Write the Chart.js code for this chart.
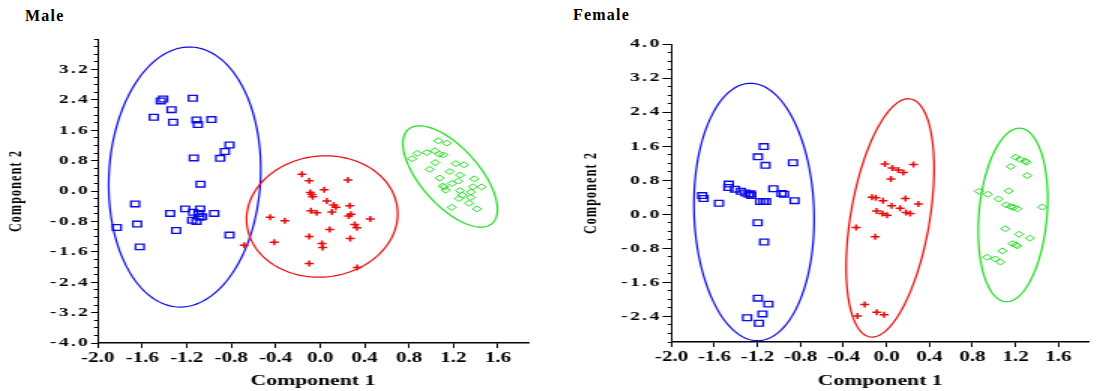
<!DOCTYPE html>
<html>
<head>
<meta charset="utf-8">
<script src="https://cdn.jsdelivr.net/npm/chart.js@4"></script>
<style>
  body { margin: 0; width: 1096px; height: 391px; overflow: hidden; background: #fff; position: relative; }
  .ttl { position: absolute; font: bold 16px 'Liberation Serif', 'Times New Roman', serif; line-height: 16px; letter-spacing: 1.2px; color: #000; }
  .wrap { position: absolute; top: 0; width: 366px; height: 391px; transform: scaleX(1.5); transform-origin: 0 0; }
</style>
</head>
<body>
<div class="ttl" style="left:25px;top:8px">Male</div>
<div class="ttl" style="left:573px;top:7px">Female</div>
<div class="wrap" style="left:0"><canvas id="male" width="366" height="391"></canvas></div>
<div class="wrap" style="left:548px"><canvas id="female" width="366" height="391"></canvas></div>
<script>
// tick labels
const xTicks = [-2.0, -1.6, -1.2, -0.8, -0.4, 0.0, 0.4, 0.8, 1.2, 1.6];
const maleYTicks = [-4.0, -3.2, -2.4, -1.6, -0.8, 0.0, 0.8, 1.6, 2.4, 3.2];
const femaleYTicks = [-2.4, -1.6, -0.8, 0.0, 0.8, 1.6, 2.4, 3.2, 4.0];

// Male scores [component 1, component 2]
const maleBlue = [[-1.412,2.42],[-1.433,2.37],[-1.145,2.44],[-1.337,2.14],[-1.496,1.94],[-1.322,1.81],[-1.112,1.87],[-1.100,1.75],[-0.977,1.88],[-0.815,1.21],[-0.857,1.04],[-0.899,0.86],[-1.136,0.87],[-1.076,0.18],[-1.664,-0.34],[-1.214,-0.47],[-1.349,-0.59],[-1.142,-0.56],[-1.079,-0.47],[-1.094,-0.59],[-1.062,-0.68],[-1.085,-0.69],[-1.151,-0.77],[-1.112,-0.80],[-0.953,-0.59],[-1.646,-0.87],[-1.829,-0.96],[-1.295,-1.04],[-0.815,-1.16],[-1.622,-1.47]];
const maleRed = [[-0.164,0.44],[-0.098,0.27],[0.250,0.29],[0.037,0.03],[-0.089,-0.04],[-0.074,-0.09],[-0.067,-0.15],[0.061,-0.26],[0.122,-0.37],[0.142,-0.43],[0.266,-0.39],[-0.083,-0.52],[-0.031,-0.57],[0.106,-0.55],[0.277,-0.61],[0.257,-0.66],[-0.449,-0.69],[-0.317,-0.78],[0.451,-0.74],[0.311,-0.88],[0.331,-0.97],[0.086,-1.01],[-0.413,-1.35],[-0.098,-1.20],[0.271,-1.25],[0.016,-1.38],[0.023,-1.49],[-0.098,-1.91],[0.334,-2.01],[-0.683,-1.43]];
const maleGreen = [[1.063,1.32],[1.139,1.26],[0.874,0.99],[0.961,1.01],[1.033,1.06],[1.072,0.97],[1.108,0.95],[0.829,0.85],[1.036,0.75],[1.220,0.72],[1.294,0.69],[0.986,0.57],[1.166,0.51],[1.258,0.42],[1.076,0.34],[1.387,0.32],[1.243,0.26],[1.186,0.20],[1.105,0.13],[1.117,0.10],[1.130,0.02],[1.375,0.11],[1.454,0.11],[1.258,0.01],[1.357,-0.03],[1.279,-0.11],[1.249,-0.20],[1.355,-0.17],[1.339,-0.32],[1.184,-0.43],[1.411,-0.47]];

// Female scores [component 1, component 2]
const femaleBlue = [[-1.141,1.59],[-1.196,1.35],[-1.125,1.15],[-0.869,1.21],[-1.467,0.71],[-1.470,0.63],[-1.409,0.59],[-1.354,0.54],[-1.312,0.50],[-1.281,0.47],[-1.257,0.44],[-1.262,0.48],[-1.052,0.60],[-0.976,0.49],[-0.952,0.47],[-1.714,0.44],[-1.701,0.37],[-1.558,0.26],[-1.175,0.30],[-1.144,0.30],[-1.120,0.30],[-0.855,0.32],[-1.198,-0.20],[-1.138,-0.65],[-1.196,-1.97],[-1.098,-2.11],[-1.153,-2.34],[-1.296,-2.43],[-1.186,-2.56]];
const femaleRed = [[-0.014,1.18],[0.054,1.09],[0.109,1.04],[0.157,0.98],[0.251,1.17],[0.041,0.83],[-0.135,0.40],[-0.099,0.39],[-0.032,0.32],[0.176,0.37],[0.297,0.24],[0.048,0.20],[0.127,0.14],[-0.092,0.08],[-0.037,0.02],[0.005,-0.02],[0.182,0.04],[0.221,0.02],[-0.282,-0.31],[-0.105,-0.53],[-0.202,-2.12],[-0.270,-2.39],[-0.090,-2.30],[-0.023,-2.36]];
const femaleGreen = [[1.202,1.34],[1.242,1.29],[1.291,1.25],[1.303,1.22],[1.156,1.12],[1.309,0.91],[0.861,0.54],[0.943,0.47],[1.138,0.55],[1.044,0.36],[1.114,0.22],[1.156,0.18],[1.181,0.16],[1.218,0.13],[1.449,0.17],[1.105,-0.34],[1.233,-0.47],[1.336,-0.56],[1.175,-0.69],[1.202,-0.72],[1.218,-0.74],[1.078,-0.86],[0.937,-1.01],[1.014,-1.05],[1.059,-1.12]];

// 95% ellipses: [centre x, centre y, axis1 dx, axis1 dy, axis2 dx, axis2 dy]
const maleBlueEllipse = [-1.218, 0.368, 0.063, 3.42, 0.681, -0.108];
const maleRedEllipse = [0.018, -0.671, 0.031, 1.597, 0.679, 0.0];
const maleGreenEllipse = [1.170, 0.382, 0.379, -1.232, 0.193, 0.511];
const femaleBlueEllipse = [-1.232, 0.054, -0.032, 3.024, 0.558, 0.0];
const femaleRedEllipse = [0.034, -0.085, 0.190, 2.794, 0.362, -0.162];
const femaleGreenEllipse = [1.177, -0.016, 0.071, 2.037, 0.315, -0.073];

const FONT = "'Liberation Serif', 'Times New Roman', serif";
const BLUE = '#0a0ae8', RED = '#e80a0a', GREEN = '#1edc1e';
const SPACING = { x: { ticks: 0, title: 0 }, y: { ticks: 1.6, title: 1.2 } };

const toPts = arr => arr.map(([x, y]) => ({ x, y }));

const letterSpacing = {
  id: 'letterSpacing',
  beforeDraw(chart) {
    const ctx = chart.ctx;
    for (const [id, sp] of Object.entries(SPACING)) {
      const scale = chart.scales[id];
      if (!scale || scale.$spaced) continue;
      const drawLabels = scale.drawLabels.bind(scale);
      const drawTitle = scale.drawTitle.bind(scale);
      scale.drawLabels = area => { ctx.letterSpacing = sp.ticks + 'px'; drawLabels(area); ctx.letterSpacing = '0px'; };
      scale.drawTitle = () => { ctx.letterSpacing = sp.title + 'px'; drawTitle(); ctx.letterSpacing = '0px'; };
      scale.$spaced = true;
    }
  }
};

function ellipses(list) {
  return {
    id: 'ellipses',
    beforeDatasetsDraw(chart) {
      const { ctx, scales: { x, y } } = chart;
      ctx.save();
      ctx.lineWidth = 1.2;
      list.forEach(({ shape, color }) => {
        const [cx, cy, ux, uy, vx, vy] = shape;
        ctx.strokeStyle = color;
        ctx.beginPath();
        for (let i = 0; i <= 180; i++) {
          const t = i / 180 * 2 * Math.PI;
          const px = x.getPixelForValue(cx + ux * Math.cos(t) + vx * Math.sin(t));
          const py = y.getPixelForValue(cy + uy * Math.cos(t) + vy * Math.sin(t));
          if (i) ctx.lineTo(px, py); else ctx.moveTo(px, py);
        }
        ctx.closePath();
        ctx.stroke();
      });
      ctx.restore();
    }
  };
}

function makeChart(id, o) {
  const tickFont = { family: FONT, size: 13, weight: 'bold' };
  return new Chart(document.getElementById(id), {
    type: 'scatter',
    data: {
      datasets: [
        { data: toPts(o.blue), pointStyle: 'rect', pointRadius: 4, pointBorderWidth: 1.3, borderColor: BLUE, backgroundColor: 'rgba(0,0,0,0)' },
        { data: toPts(o.red), pointStyle: 'cross', pointRadius: 3, pointBorderWidth: 1.5, borderColor: RED, backgroundColor: RED },
        { data: toPts(o.green), pointStyle: 'rectRot', pointRadius: 3, pointBorderWidth: 1, borderColor: GREEN, backgroundColor: 'rgba(0,0,0,0)' }
      ]
    },
    options: {
      responsive: false,
      animation: false,
      events: [],
      layout: { padding: { left: 0, right: o.padRight, top: o.top, bottom: 0 } },
      plugins: { legend: { display: false }, tooltip: { enabled: false } },
      scales: {
        x: {
          type: 'linear', position: 'bottom', min: -2.0, max: o.xMax,
          afterBuildTicks: s => { s.ticks = xTicks.map(v => ({ value: v })); },
          afterFit: s => { s.height = o.xHeight; },
          grid: { drawOnChartArea: false, color: '#000', tickLength: 5, tickWidth: 1 },
          border: { color: '#000', width: 1.4 },
          ticks: { font: { family: FONT, size: 14, weight: 'bold' }, color: '#000', padding: 2, maxRotation: 0, callback: v => v.toFixed(1) },
          title: { display: true, text: 'Component 1', font: { family: FONT, size: 14.5, weight: 'bold' }, color: '#000', padding: { top: 0, bottom: 1 } }
        },
        y: {
          type: 'linear', position: 'left', weight: 1, min: o.yMin, max: 4.0,
          afterBuildTicks: s => { s.ticks = o.yTicks.map(v => ({ value: v })); },
          afterFit: s => { s.width = o.yWidth; },
          grid: { drawOnChartArea: false, color: '#000', tickLength: o.tickLen, tickWidth: 1 },
          border: { color: '#000', width: 1 },
          ticks: { font: tickFont, color: '#000', padding: 0.5, callback: v => v.toFixed(1) },
          title: { display: true, text: 'Component 2', font: { family: FONT, size: 12, weight: 'bold' }, color: '#000', padding: { top: o.titlePad, bottom: 0 } }
        },
        yMinor: {
          type: 'linear', position: 'left', weight: 0, min: o.yMin, max: 4.0,
          afterFit: s => { s.width = 0; },
          grid: { drawOnChartArea: false, color: '#000', tickLength: 2.5, tickWidth: 1 },
          border: { display: false },
          ticks: { display: false, stepSize: 0.2, autoSkip: false }
        }
      }
    },
    plugins: [letterSpacing, ellipses(o.ellipses)]
  });
}

makeChart('male', {
  blue: maleBlue, red: maleRed, green: maleGreen,
  yTicks: maleYTicks, yMin: -4.0, xMax: 1.87,
  top: 39, padRight: 14, yWidth: 65.2, xHeight: 48, tickLen: 4.5, titlePad: 4,
  ellipses: [
    { shape: maleBlueEllipse, color: BLUE },
    { shape: maleRedEllipse, color: RED },
    { shape: maleGreenEllipse, color: GREEN }
  ]
});

makeChart('female', {
  blue: femaleBlue, red: femaleRed, green: femaleGreen,
  yTicks: femaleYTicks, yMin: -3.0, xMax: 1.882,
  top: 44, padRight: 0, yWidth: 82.3, xHeight: 49, tickLen: 6, titlePad: 22,
  ellipses: [
    { shape: femaleBlueEllipse, color: BLUE },
    { shape: femaleRedEllipse, color: RED },
    { shape: femaleGreenEllipse, color: GREEN }
  ]
});
</script>
</body>
</html>
